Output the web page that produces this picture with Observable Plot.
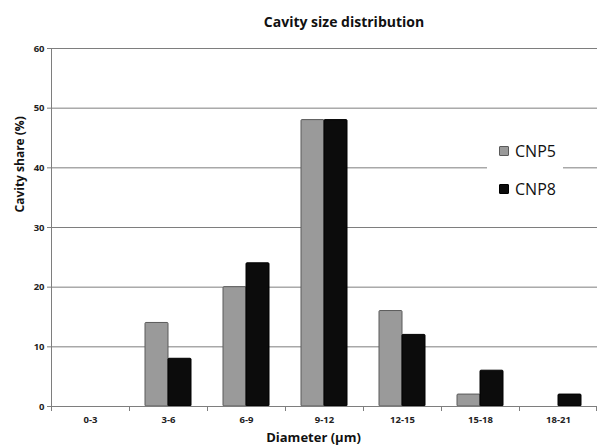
<!DOCTYPE html>
<html>
<head>
<meta charset="utf-8">
<script src="https://cdn.jsdelivr.net/npm/d3@7"></script>
<script src="https://cdn.jsdelivr.net/npm/@observablehq/plot@0.6"></script>
<style>
  html, body { margin: 0; padding: 0; background: #fff; }
  #wrap { position: relative; width: 598px; height: 448px; font-family: "Open Sans", "DejaVu Sans", sans-serif; }
  #title { box-sizing: border-box; width: 598px; height: 36px; padding-left: 90px; text-align: center;
           font-weight: 700; font-size: 14px; line-height: 44px; color: #111; }
  #legend { position: absolute; left: 487px; top: 136px; width: 76px; height: 68px; background: #fff; }
  .item { position: absolute; left: 12px; display: flex; align-items: center; font-size: 16px; color: #111; }
  .sw { width: 10px; height: 10px; margin-right: 6px; box-sizing: border-box; border-radius: 1px; }
</style>
</head>
<body>
<div id="wrap">
  <div id="title">Cavity size distribution</div>
  <div id="chart"></div>
  <div id="legend"></div>
</div>
<script>
const categories = ["0-3", "3-6", "6-9", "9-12", "12-15", "15-18", "18-21"];
const seriesNames = ["CNP5", "CNP8"];
const cnp5 = [0, 14, 20, 48, 16, 2, 0];
const cnp8 = [0, 8, 24, 48, 12, 6, 2];
const yTicks = [0, 10, 20, 30, 40, 50, 60];
const colors = {CNP5: "#9a9a9a", CNP8: "#0c0c0c"};
const strokes = {CNP5: "#5a5a5a", CNP8: "#000"};

const rows5 = categories.map((c, i) => ({cat: c, series: "CNP5", value: cnp5[i]})).filter(d => d.value > 0);
const rows8 = categories.map((c, i) => ({cat: c, series: "CNP8", value: cnp8[i]})).filter(d => d.value > 0);

const W = 598, H = 412;
const mL = 51, mR = 1;
const band = (W - mL - mR) / categories.length;
const half = band / 2;
const barW = 23;
const gridColor = "#7e7e7e";

const chart = Plot.plot({
  width: W,
  height: H,
  marginLeft: mL,
  marginRight: mR,
  marginTop: 12,
  marginBottom: 42,
  style: {fontFamily: "'Open Sans', 'DejaVu Sans', sans-serif", background: "#fff", color: "#222"},
  x: {type: "band", domain: categories, padding: 0},
  y: {domain: [0, 60]},
  marks: [
    Plot.gridY(yTicks, {stroke: gridColor, strokeOpacity: 1, strokeWidth: 1}),
    Plot.barY(rows5, {x: "cat", y: "value", fill: colors.CNP5, stroke: strokes.CNP5, strokeWidth: 1,
      insetLeft: half - barW, insetRight: half, rx: 1}),
    Plot.barY(rows8, {x: "cat", y: "value", fill: colors.CNP8, stroke: strokes.CNP8, strokeWidth: 1,
      insetLeft: half, insetRight: half - barW, rx: 1}),
    Plot.ruleY([0], {stroke: gridColor, strokeWidth: 1}),
    Plot.ruleX([categories[0]], {x: d => d, dx: -half, y1: 0, y2: 60, stroke: gridColor, strokeWidth: 1}),
    Plot.ruleX(categories, {x: d => d, dx: -half, y1: 0, y2: 0, insetBottom: -5, stroke: gridColor}),
    Plot.ruleX([categories[categories.length - 1]], {x: d => d, dx: half - 1, y1: 0, y2: 0, insetBottom: -5, stroke: gridColor}),
    Plot.axisY({ticks: yTicks, tickSize: 4, tickPadding: 3, stroke: gridColor, label: null,
      fontSize: 9.5, fontWeight: "bold", fill: "#222"}),
    Plot.axisX({tickSize: 0, tickPadding: 10, label: null, fontSize: 9.5, fontWeight: "bold", fill: "#222"}),
    Plot.text(["Diameter (µm)"], {text: d => d, frameAnchor: "bottom", dy: 35, dx: -11,
      fontSize: 13, fontWeight: "bold", fill: "#111"}),
    Plot.text(["Cavity share (%)"], {text: d => d, frameAnchor: "left", rotate: -90, dx: -31, dy: -15,
      fontSize: 12, fontWeight: "bold", fill: "#111"})
  ]
});
document.getElementById("chart").appendChild(chart);

const legend = document.getElementById("legend");
seriesNames.forEach((s, i) => {
  const item = document.createElement("div");
  item.className = "item";
  item.style.top = (i === 0 ? 4 : 42) + "px";
  const sw = document.createElement("span");
  sw.className = "sw";
  sw.style.background = colors[s];
  sw.style.border = "1px solid " + strokes[s];
  const t = document.createElement("span");
  t.textContent = s;
  item.appendChild(sw);
  item.appendChild(t);
  legend.appendChild(item);
});
</script>
</body>
</html>
